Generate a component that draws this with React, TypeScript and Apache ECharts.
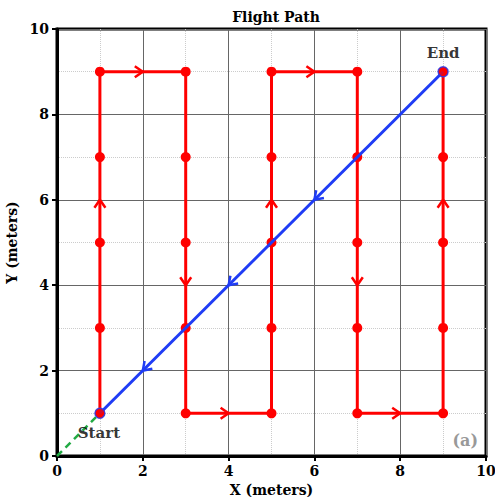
import React, { useEffect, useRef } from "react";
import * as echarts from "echarts";

const pathX = [1, 1, 1, 1, 1, 3, 3, 3, 3, 3, 5, 5, 5, 5, 5, 7, 7, 7, 7, 7, 9, 9, 9, 9, 9];
const pathY = [1, 3, 5, 7, 9, 9, 7, 5, 3, 1, 1, 3, 5, 7, 9, 9, 7, 5, 3, 1, 1, 3, 5, 7, 9];

const redArrowX = [1, 2, 3, 4, 5, 6, 7, 8, 9];
const redArrowY = [6, 9, 4, 1, 6, 9, 4, 1, 6];
const redArrowDX = [0, 1, 0, 1, 0, 1, 0, 1, 0];
const redArrowDY = [1, 0, -1, 0, 1, 0, -1, 0, 1];

const returnX = [9, 1];
const returnY = [9, 1];
const blueArrowX = [6, 4, 2];
const blueArrowY = [6, 4, 2];
const blueArrowDX = [-1, -1, -1];
const blueArrowDY = [-1, -1, -1];

const takeoffX = [0, 1];
const takeoffY = [0, 1];

const startPoint = [1, 1];
const endPoint = [9, 9];

const FONT = "DejaVu Serif";

function zip(xs: number[], ys: number[]) {
  return xs.map((x, i) => [x, ys[i]]);
}

function arrowRender(color: string) {
  return (params: any, api: any) => {
    const x = api.value(0);
    const y = api.value(1);
    const p = api.coord([x, y]);
    const q = api.coord([x + api.value(2) * 0.1, y + api.value(3) * 0.1]);
    let dx = q[0] - p[0];
    let dy = q[1] - p[1];
    const len = Math.sqrt(dx * dx + dy * dy) || 1;
    dx /= len;
    dy /= len;
    const px = -dy;
    const py = dx;
    const back = 8;
    const half = 5.5;
    const tip = [p[0], p[1]];
    const a = [p[0] - dx * back + px * half, p[1] - dy * back + py * half];
    const b = [p[0] - dx * back - px * half, p[1] - dy * back - py * half];
    return {
      type: "polyline",
      shape: { points: [a, tip, b] },
      style: { stroke: color, lineWidth: 2.5, fill: "none" },
      z2: 10,
    };
  };
}

export default function App() {
  const ref = useRef<HTMLDivElement>(null);
  useEffect(() => {
    if (!ref.current) return;
    const chart = echarts.init(ref.current, null, { renderer: "svg" });
    const axisCommon = {
      type: "value",
      min: 0,
      max: 10,
      interval: 2,
      axisLine: { show: true, onZero: false, lineStyle: { color: "#000", width: 3 } },
      axisTick: { show: true, length: 5, lineStyle: { color: "#000", width: 2 } },
      axisLabel: { color: "#000", fontFamily: FONT, fontWeight: "bold", fontSize: 14, margin: 8 },
      splitLine: { show: true, lineStyle: { color: "#666", width: 1 } },
      minorTick: { show: false, splitNumber: 2 },
      minorSplitLine: { show: true, lineStyle: { color: "#ccc", width: 1, type: "dotted" } },
      nameLocation: "middle",
      nameTextStyle: { color: "#000", fontFamily: FONT, fontWeight: "bold", fontSize: 14 },
    };
    chart.setOption({
      animation: false,
      title: {
        text: "Flight Path",
        left: 271,
        top: 5,
        textAlign: "center",
        textStyle: { fontFamily: FONT, fontWeight: "bold", fontSize: 14, color: "#000" },
      },
      grid: {
        left: 57,
        right: 9,
        top: 29,
        bottom: 41,
        outerBoundsMode: "none",
        containLabel: false,
        show: true,
        borderColor: "#000",
        borderWidth: 3,
        backgroundColor: "#fff",
      },
      xAxis: { ...axisCommon, name: "X (meters)", nameGap: 26 },
      yAxis: { ...axisCommon, name: "Y (meters)", nameGap: 34 },
      graphic: [
        {
          type: "text",
          right: 17,
          bottom: 49,
          style: {
            text: "(a)",
            fill: "#999",
            font: `bold 16px "${FONT}"`,
          },
          z: 100,
        },
      ],
      series: [
        {
          type: "line",
          data: zip(takeoffX, takeoffY),
          showSymbol: false,
          lineStyle: { color: "#22aa44", width: 2.5, type: [7, 5] },
          z: 3,
        },
        {
          type: "line",
          data: zip(pathX, pathY),
          symbol: "circle",
          symbolSize: 10,
          itemStyle: { color: "#ff0000" },
          lineStyle: { color: "#ff0000", width: 3 },
          z: 4,
        },
        {
          type: "custom",
          renderItem: arrowRender("#ff0000"),
          data: redArrowX.map((x, i) => [x, redArrowY[i], redArrowDX[i], redArrowDY[i]]),
          z: 5,
        },
        {
          type: "line",
          data: zip(returnX, returnY),
          showSymbol: false,
          lineStyle: { color: "#1f3cf5", width: 3 },
          z: 6,
        },
        {
          type: "custom",
          renderItem: arrowRender("#1f3cf5"),
          data: blueArrowX.map((x, i) => [x, blueArrowY[i], blueArrowDX[i], blueArrowDY[i]]),
          z: 7,
        },
        {
          type: "scatter",
          data: [
            { value: startPoint, label: { show: true, formatter: "Start", position: "bottom", distance: 6, offset: [-1, 0] } },
            { value: endPoint, label: { show: true, formatter: "End", position: "top", distance: 5 } },
          ],
          symbol: "circle",
          symbolSize: 10,
          itemStyle: { color: "#ff0000", borderColor: "#1f3cf5", borderWidth: 1.5 },
          label: { color: "#000", fontFamily: FONT, fontWeight: "bold", fontSize: 15 },
          z: 8,
        },
      ],
    });
    return () => chart.dispose();
  }, []);
  return <div ref={ref} style={{ width: 495, height: 497, position: "absolute", left: 0, top: 0 }} />;
}
